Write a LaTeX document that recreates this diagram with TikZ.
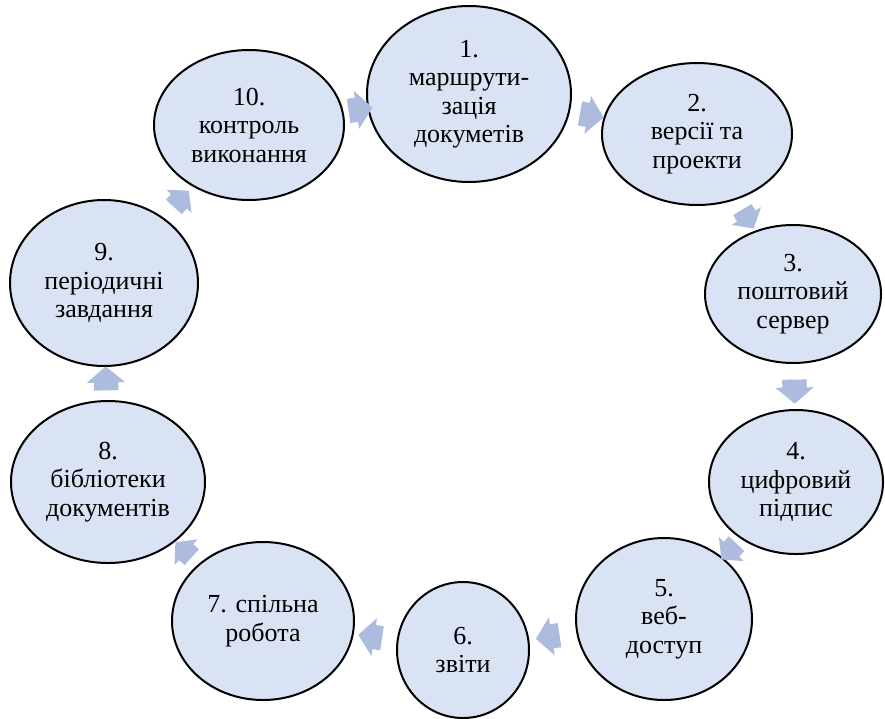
\documentclass[tikz,border=0pt]{standalone}
\usepackage{fontspec}
\setmainfont{Liberation Serif}
\usepackage{tikz}
\usetikzlibrary{shapes.geometric,shapes.arrows,positioning,calc}
\definecolor{ciclofill}{HTML}{DAE3F3}
\definecolor{cicloarrow}{HTML}{ADBBDF}

\begin{document}
\begin{tikzpicture}[
    x=1pt, y=-1pt,
    % Estilos
    etapa/.style={ellipse, draw=black, line width=2pt, fill=ciclofill, inner sep=0pt, align=center, font=\fontsize{26}{28.5}\selectfont},
    flecha/.style={single arrow, fill=cicloarrow, draw=none, inner sep=0pt, text height=24pt, text depth=0pt, minimum height=24pt, minimum width=38pt, single arrow head extend=7pt, single arrow tip angle=100, sloped, allow upside down},
    flechap/.style={flecha, text height=21pt, minimum height=22pt, minimum width=34pt, single arrow head extend=6.5pt}
]
\useasboundingbox (0,0) rectangle (885,718);

% --- NODOS (etapas del ciclo) ---
\node[etapa, minimum width=204pt, minimum height=176pt] (e1)  at (469,94)  {1.\\маршрути-\\зація\\докуметів};
\node[etapa, minimum width=190pt, minimum height=142pt] (e2)  at (697,134) {2.\\версії та\\проекти};
\node[etapa, minimum width=176pt, minimum height=138pt] (e3)  at (793,294) {3.\\поштовий\\сервер};
\node[etapa, minimum width=174pt, minimum height=144pt] (e4)  at (796,482) {4.\\цифровий\\підпис};
\node[etapa, minimum width=176pt, minimum height=162pt] (e5)  at (664,619) {5.\\веб-\\доступ};
\node[etapa, minimum width=132pt, minimum height=136pt] (e6)  at (463,650) {6.\\звіти};
\node[etapa, minimum width=182pt, minimum height=158pt] (e7)  at (263,621) {7. спільна\\робота};
\node[etapa, minimum width=194pt, minimum height=162pt] (e8)  at (108,482) {8.\\бібліотеки\\документів};
\node[etapa, minimum width=188pt, minimum height=166pt] (e9)  at (104,283) {9.\\періодичні\\завдання};
\node[etapa, minimum width=190pt, minimum height=150pt] (e10) at (249,125) {10.\\контроль\\виконання};

% --- FLECHAS (entre etapas) ---
\path (e1)  -- node[flecha]  (f12)  {} (e2);
\path (e2)  -- node[flechap] (f23)  {} (e3);
\path (e3)  -- node[flecha]  (f34)  {} (e4);
\path (e4)  -- node[flechap] (f45)  {} (e5);
\path (e5)  -- node[flecha]  (f56)  {} (e6);
\path (e6)  -- node[flecha]  (f67)  {} (e7);
\path (e7)  -- node[flechap] (f78)  {} (e8);
\path (e8)  -- node[flecha]  (f89)  {} (e9);
\path (e9)  -- node[flechap] (f910) {} (e10);
\path (e10) -- node[flecha]  (f101) {} (e1);

\end{tikzpicture}
\end{document}
